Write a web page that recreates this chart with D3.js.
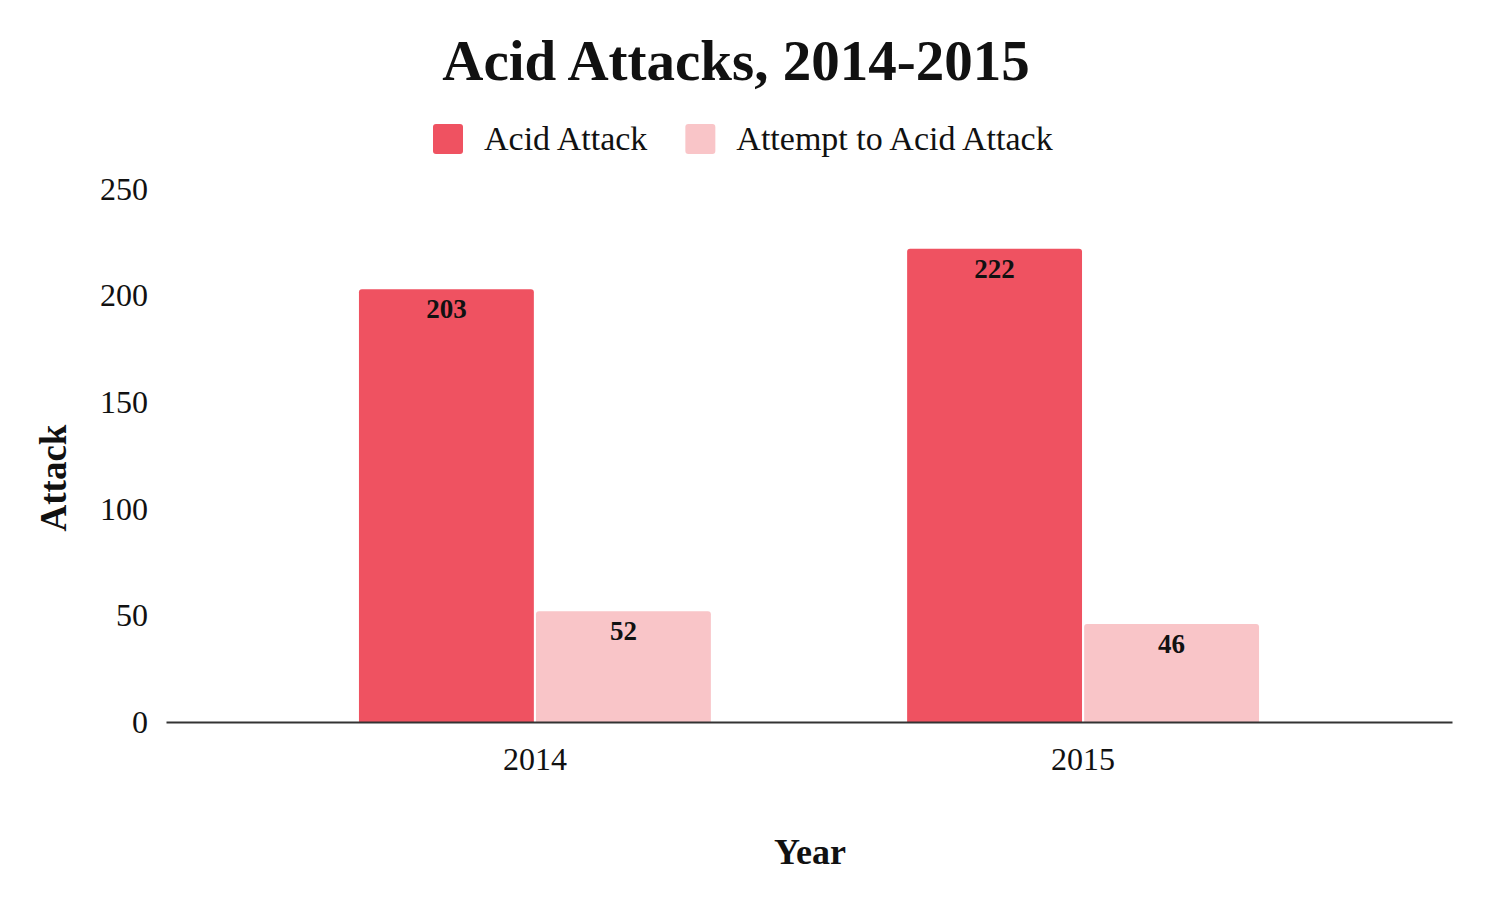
<!DOCTYPE html>
<html>
<head>
<meta charset="utf-8">
<script src="https://cdn.jsdelivr.net/npm/d3@7"></script>
<style>
  body { margin: 0; background: #fff; }
  text { font-family: "Liberation Serif", "DejaVu Serif", serif; fill: #111; }
</style>
</head>
<body>
<div id="root"></div>
<script>
const years = ['2014', '2015'];
const seriesNames = ['Acid Attack', 'Attempt to Acid Attack'];
const acidAttack = [203, 222];
const attemptAttack = [52, 46];
const yTicks = [0, 50, 100, 150, 200, 250];
const colors = ['#ef5261', '#f9c5c8'];

const W = 1500, H = 899;
const margin = { top: 189, right: 48, bottom: 177, left: 166 };

const svg = d3.select('#root').append('svg')
  .attr('width', W)
  .attr('height', H);

const x = d3.scaleBand()
  .domain(years)
  .range([margin.left, W - margin.right])
  .paddingInner(0.358)
  .paddingOuter(0.352);

const xSub = d3.scaleBand()
  .domain(seriesNames)
  .range([0, x.bandwidth()])
  .paddingInner(0.012);

const y = d3.scaleLinear()
  .domain([0, 250])
  .range([H - margin.bottom, margin.top]);

const rows = years.map((yr, i) => ({
  year: yr,
  values: [
    { name: seriesNames[0], value: acidAttack[i], color: colors[0] },
    { name: seriesNames[1], value: attemptAttack[i], color: colors[1] }
  ]
}));

// title
svg.append('text')
  .attr('x', 736).attr('y', 80)
  .attr('text-anchor', 'middle')
  .attr('font-size', 57)
  .attr('font-weight', 'bold')
  .text('Acid Attacks, 2014-2015');

// legend, items laid out one after another
const legend = svg.append('g').attr('transform', 'translate(433,124)');
let lx = 0;
seriesNames.forEach((name, i) => {
  const g = legend.append('g').attr('transform', `translate(${lx},0)`);
  g.append('rect')
    .attr('width', 30).attr('height', 30).attr('rx', 3)
    .attr('fill', colors[i]);
  const t = g.append('text')
    .attr('x', 51).attr('y', 26)
    .attr('font-size', 34)
    .text(name);
  lx += 51 + t.node().getComputedTextLength() + 38;
});

// y axis labels
const yAxis = d3.axisLeft(y).tickValues(yTicks).tickSize(0).tickPadding(18);
svg.append('g')
  .attr('transform', `translate(${margin.left},0)`)
  .call(yAxis)
  .call(g => g.select('.domain').remove())
  .call(g => g.selectAll('text')
    .attr('font-size', 32)
    .attr('fill', '#222')
    .style('font-family', '"Liberation Serif", serif'));

// bars
const groups = svg.selectAll('.year')
  .data(rows)
  .enter().append('g')
  .attr('class', 'year')
  .attr('transform', d => `translate(${x(d.year)},0)`);

groups.selectAll('path')
  .data(d => d.values)
  .enter().append('path')
  .attr('fill', d => d.color)
  .attr('d', d => {
    const x0 = xSub(d.name), w = xSub.bandwidth();
    const y0 = y(d.value), y1 = y(0), r = 3;
    return `M${x0},${y1}V${y0 + r}Q${x0},${y0} ${x0 + r},${y0}H${x0 + w - r}Q${x0 + w},${y0} ${x0 + w},${y0 + r}V${y1}Z`;
  });

groups.selectAll('.val')
  .data(d => d.values)
  .enter().append('text')
  .attr('class', 'val')
  .attr('x', d => xSub(d.name) + xSub.bandwidth() / 2)
  .attr('y', d => y(d.value) + 29)
  .attr('text-anchor', 'middle')
  .attr('font-size', 27)
  .attr('font-weight', 'bold')
  .text(d => d.value);

// x axis
const xAxis = d3.axisBottom(x).tickSize(0).tickPadding(25);
svg.append('g')
  .attr('transform', `translate(0,${y(0)})`)
  .call(xAxis)
  .call(g => g.select('.domain').attr('stroke', '#333').attr('stroke-width', 2))
  .call(g => g.selectAll('text')
    .attr('font-size', 32)
    .attr('fill', '#222')
    .style('font-family', '"Liberation Serif", serif'));

// axis titles
svg.append('text')
  .attr('x', 810).attr('y', 864)
  .attr('text-anchor', 'middle')
  .attr('font-size', 36)
  .attr('font-weight', 'bold')
  .text('Year');

svg.append('text')
  .attr('transform', 'translate(66,478) rotate(-90)')
  .attr('text-anchor', 'middle')
  .attr('font-size', 37)
  .attr('font-weight', 'bold')
  .text('Attack');
</script>
</body>
</html>
